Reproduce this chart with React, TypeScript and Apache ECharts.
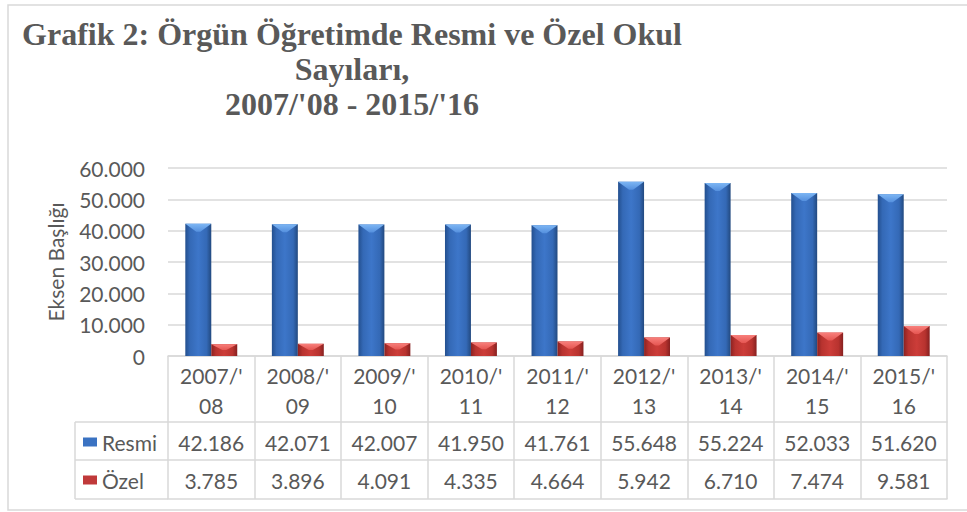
import React, { useEffect, useRef } from "react";
import * as echarts from "echarts";

const categories = ["2007/'08", "2008/'09", "2009/'10", "2010/'11", "2011/'12", "2012/'13", "2013/'14", "2014/'15", "2015/'16"];
const resmi = [42186, 42071, 42007, 41950, 41761, 55648, 55224, 52033, 51620];
const ozel = [3785, 3896, 4091, 4335, 4664, 5942, 6710, 7474, 9581];
const seriesNames = ["Resmi", "Özel"];
const titleLines = ["Grafik 2: Örgün Öğretimde Resmi ve Özel Okul", "Sayıları,", "2007/'08 - 2015/'16"];
const yAxisTitle = "Eksen Başlığı";

const fmt = (v: number) => String(v).replace(/\B(?=(\d{3})+(?!\d))/g, ".");

const TEXT = "#595959";
const LINE = "#d9d9d9";
const FONT = "Lato, 'Open Sans', sans-serif";

const blueBody = {
  type: "linear", x: 0, y: 0, x2: 1, y2: 0,
  colorStops: [
    { offset: 0, color: "#234f8e" },
    { offset: 0.18, color: "#3469b6" },
    { offset: 0.5, color: "#3d76c9" },
    { offset: 0.82, color: "#3469b6" },
    { offset: 1, color: "#22497f" },
  ],
};
const redBody = {
  type: "linear", x: 0, y: 0, x2: 1, y2: 0,
  colorStops: [
    { offset: 0, color: "#8c2221" },
    { offset: 0.18, color: "#b8332f" },
    { offset: 0.5, color: "#cc3d39" },
    { offset: 0.82, color: "#b8332f" },
    { offset: 1, color: "#862020" },
  ],
};
const blueFacet = {
  type: "linear", x: 0, y: 0, x2: 0, y2: 1,
  colorStops: [
    { offset: 0, color: "#7db6f4" },
    { offset: 1, color: "#5590de" },
  ],
};
const redFacet = {
  type: "linear", x: 0, y: 0, x2: 0, y2: 1,
  colorStops: [
    { offset: 0, color: "#f8807c" },
    { offset: 1, color: "#e55652" },
  ],
};

function makeRender(side: number, body: any, facet: any) {
  return (params: any, api: any) => {
    const idx = api.value(0);
    const v = api.value(1);
    const p0 = api.coord([idx, 0]);
    const p1 = api.coord([idx, v]);
    const band = api.size([1, 0])[0];
    const w = band * 0.3;
    const x = side < 0 ? p0[0] - w : p0[0];
    const h = p0[1] - p1[1];
    const d = Math.min(8, h / 2);
    return {
      type: "group",
      children: [
        { type: "rect", shape: { x, y: p1[1], width: w, height: h }, style: { fill: body } },
        {
          type: "polygon",
          shape: { points: [[x, p1[1]], [x + w, p1[1]], [x + w / 2 + 2, p1[1] + d], [x + w / 2 - 2, p1[1] + d]] },
          style: { fill: facet },
        },
      ],
    };
  };
}

export default function App() {
  const ref = useRef<HTMLDivElement>(null);
  useEffect(() => {
    if (!ref.current) return;
    const chart = echarts.init(ref.current, null, { renderer: "svg" });
    const gridLeft = 168;
    const gridRight = 20;
    const gridTop = 168;
    const gridBottom = 156;
    const row0 = 66;
    const row1 = 38;
    const row2 = 39;
    const axisY = 512 - gridBottom;

    const tableAxis = (offset: number, tickLen: number, values: number[] | null) => ({
      type: "category",
      data: categories,
      position: "bottom",
      offset,
      axisLine: { show: true, lineStyle: { color: LINE, width: 1.5 } },
      axisTick: { show: tickLen > 0, interval: 0, alignWithLabel: false, length: tickLen, lineStyle: { color: LINE, width: 1.5 } },
      axisLabel: values
        ? {
            show: true,
            interval: 0,
            margin: 8,
            fontSize: 21,
            lineHeight: 24,
            fontFamily: FONT,
            color: TEXT,
            formatter: (_v: string, i: number) => fmt(values[i]),
          }
        : { show: false },
      splitLine: { show: false },
    });

    chart.setOption({
      animation: false,
      backgroundColor: "#ffffff",
      textStyle: { fontFamily: FONT },
      grid: { left: gridLeft, right: gridRight, top: gridTop, bottom: gridBottom, containLabel: false },
      legend: {
        data: seriesNames,
        orient: "vertical",
        left: 83,
        top: axisY + row0 + 8,
        padding: 0,
        itemWidth: 14,
        itemHeight: 9,
        itemGap: 14,
        icon: "rect",
        textStyle: { fontSize: 21, lineHeight: 24, color: TEXT, fontFamily: FONT },
        selectedMode: false,
      },
      xAxis: [
        {
          type: "category",
          data: categories,
          position: "bottom",
          axisLine: { show: true, lineStyle: { color: LINE, width: 1.5 } },
          axisTick: { show: true, interval: 0, alignWithLabel: false, length: row0, lineStyle: { color: LINE, width: 1.5 } },
          axisLabel: {
            interval: 0,
            margin: 4,
            fontSize: 21,
            lineHeight: 30,
            fontFamily: FONT,
            color: TEXT,
            formatter: (v: string) => v.replace("/'", "/'\n"),
          },
        },
        tableAxis(row0, row1, resmi),
        tableAxis(row0 + row1, row2, ozel),
        tableAxis(row0 + row1 + row2, 0, null),
      ],
      yAxis: {
        type: "value",
        min: 0,
        max: 60000,
        interval: 10000,
        name: yAxisTitle,
        nameLocation: "middle",
        nameGap: 102,
        nameTextStyle: { fontSize: 21, color: TEXT, fontFamily: FONT },
        axisLine: { show: false },
        axisTick: { show: false },
        axisLabel: { margin: 23, fontSize: 21, color: TEXT, fontFamily: FONT, formatter: (v: number) => fmt(v) },
        splitLine: { lineStyle: { color: LINE, width: 1.5 } },
      },
      series: [
        {
          name: seriesNames[0],
          type: "custom",
          xAxisIndex: 0,
          renderItem: makeRender(-1, blueBody, blueFacet),
          itemStyle: { color: "#3a72c2" },
          encode: { x: 0, y: 1 },
          data: resmi.map((v, i) => [i, v]),
        },
        {
          name: seriesNames[1],
          type: "custom",
          xAxisIndex: 0,
          renderItem: makeRender(1, redBody, redFacet),
          itemStyle: { color: "#c0393a" },
          encode: { x: 0, y: 1 },
          data: ozel.map((v, i) => [i, v]),
        },
      ],
      graphic: [
        {
          type: "rect",
          silent: true,
          shape: { x: 8, y: 5, width: 980, height: 505 },
          style: { fill: "none", stroke: LINE, lineWidth: 1.5 },
        },
        {
          type: "text",
          x: 352,
          y: 16,
          style: {
            text: titleLines.join("\n"),
            font: "bold 32px 'Liberation Serif', 'Times New Roman', serif",
            lineHeight: 35,
            fill: TEXT,
            textAlign: "center",
            textVerticalAlign: "top",
          },
        },
        { type: "line", shape: { x1: 75, y1: axisY + row0, x2: gridLeft, y2: axisY + row0 }, style: { stroke: LINE, lineWidth: 1.5 } },
        { type: "line", shape: { x1: 75, y1: axisY + row0 + row1, x2: gridLeft, y2: axisY + row0 + row1 }, style: { stroke: LINE, lineWidth: 1.5 } },
        { type: "line", shape: { x1: 75, y1: axisY + row0 + row1 + row2, x2: gridLeft, y2: axisY + row0 + row1 + row2 }, style: { stroke: LINE, lineWidth: 1.5 } },
        { type: "line", shape: { x1: 75, y1: axisY + row0, x2: 75, y2: axisY + row0 + row1 + row2 }, style: { stroke: LINE, lineWidth: 1.5 } },
      ],
    });
    return () => chart.dispose();
  }, []);
  return <div ref={ref} style={{ position: "fixed", left: 0, top: 0, width: 967, height: 512 }} />;
}
